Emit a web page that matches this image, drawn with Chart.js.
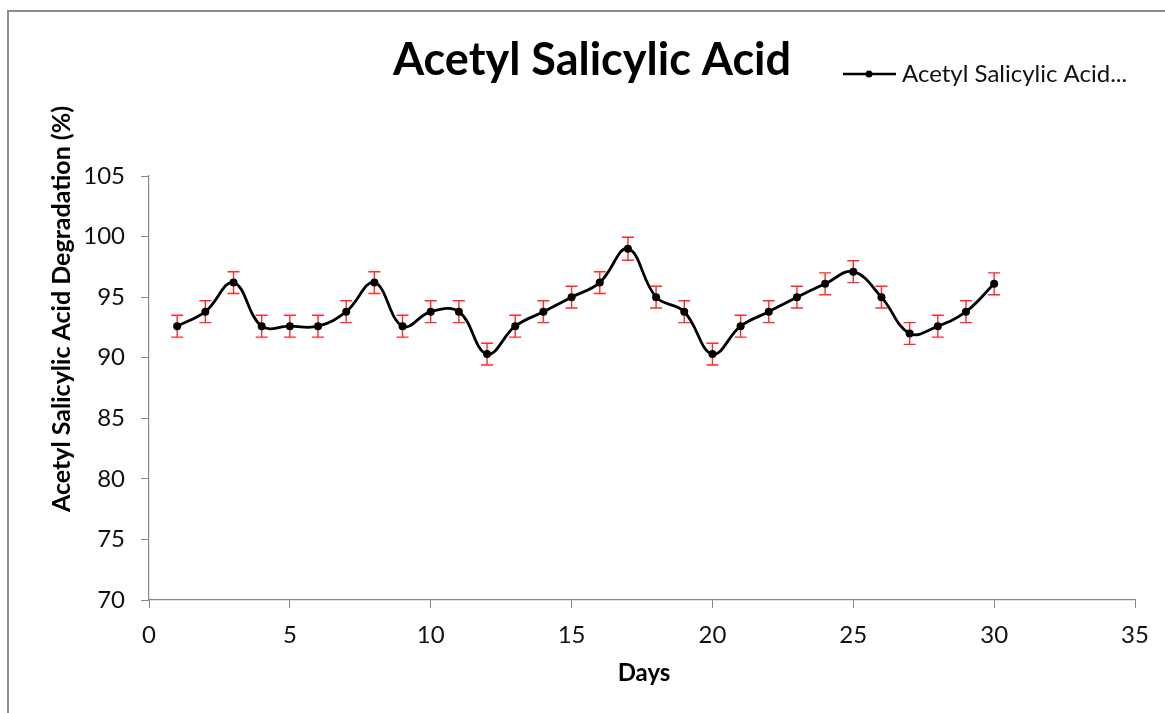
<!DOCTYPE html>
<html>
<head>
<meta charset="utf-8">
<script src="https://cdn.jsdelivr.net/npm/chart.js@4.4.1/dist/chart.umd.min.js"></script>
<style>
  html, body { margin: 0; padding: 0; background: #fff; }
  #wrap { position: relative; width: 1165px; height: 713px; }
  #frame { position: absolute; left: 7px; top: 10px; width: 1170px; height: 720px;
           border-left: 2px solid #8c8c8c; border-top: 2px solid #8c8c8c; box-sizing: border-box; }
  canvas { position: absolute; left: 0; top: 0; }
</style>
</head>
<body>
<div id="wrap">
  <div id="frame"></div>
  <canvas id="grafico" width="1165" height="713"></canvas>
</div>
<script>
// dados
const days = [1, 2, 3, 4, 5, 6, 7, 8, 9, 10, 11, 12, 13, 14, 15,
              16, 17, 18, 19, 20, 21, 22, 23, 24, 25, 26, 27, 28, 29, 30];
const degradation = [92.6, 93.8, 96.2, 92.6, 92.6, 92.6, 93.8, 96.2, 92.6, 93.8,
                     93.8, 90.3, 92.6, 93.8, 95.0, 96.2, 99.0, 95.0, 93.8, 90.3,
                     92.6, 93.8, 95.0, 96.1, 97.1, 95.0, 92.0, 92.6, 93.8, 96.1];
const errors = [0.9, 0.9, 0.9, 0.9, 0.9, 0.9, 0.9, 0.9, 0.9, 0.9,
                0.9, 0.9, 0.9, 0.9, 0.9, 0.9, 0.95, 0.9, 0.9, 0.9,
                0.9, 0.9, 0.9, 0.9, 0.9, 0.9, 0.9, 0.9, 0.9, 0.9];
const xTicks = [0, 5, 10, 15, 20, 25, 30, 35];
const yTicks = [70, 75, 80, 85, 90, 95, 100, 105];

const titleText = 'Acetyl Salicylic Acid';
const legendText = 'Acetyl Salicylic Acid...';
const xTitle = 'Days';
const yTitle = 'Acetyl Salicylic Acid Degradation (%)';

const FONT = 'Lato, "Open Sans", sans-serif';
const GREY = '#868686';

// barras de erro desenhadas com as escalas do gráfico
const errorBars = {
  id: 'errorBars',
  beforeDatasetsDraw(chart) {
    const ctx = chart.ctx;
    const xs = chart.scales.x, ys = chart.scales.y;
    ctx.save();
    ctx.strokeStyle = '#ff2a2a';
    ctx.lineWidth = 1.4;
    days.forEach((d, i) => {
      const px = xs.getPixelForValue(d);
      const top = ys.getPixelForValue(degradation[i] + errors[i]);
      const bot = ys.getPixelForValue(degradation[i] - errors[i]);
      ctx.beginPath();
      ctx.moveTo(px, top); ctx.lineTo(px, bot);
      ctx.moveTo(px - 6, top); ctx.lineTo(px + 6, top);
      ctx.moveTo(px - 6, bot); ctx.lineTo(px + 6, bot);
      ctx.stroke();
    });
    ctx.restore();
  }
};

// título, legenda e títulos dos eixos
const labels = {
  id: 'labels',
  afterDraw(chart) {
    const ctx = chart.ctx;
    const area = chart.chartArea;
    ctx.save();
    ctx.fillStyle = '#000';
    ctx.textBaseline = 'alphabetic';

    ctx.font = 'bold 45px ' + FONT;
    ctx.textAlign = 'center';
    ctx.fillText(titleText, 592, 75);

    ctx.strokeStyle = '#000';
    ctx.lineWidth = 2.5;
    ctx.beginPath(); ctx.moveTo(843, 74); ctx.lineTo(896, 74); ctx.stroke();
    ctx.beginPath(); ctx.arc(869, 74, 3.5, 0, Math.PI * 2); ctx.fill();
    ctx.font = '24px ' + FONT;
    ctx.textAlign = 'left';
    ctx.fillStyle = '#111';
    ctx.fillText(legendText, 902, 82);

    ctx.fillStyle = '#000';
    ctx.font = 'bold 24px ' + FONT;
    ctx.textAlign = 'center';
    ctx.fillText(xTitle, (area.left + area.right) / 2 + 2, 681);

    ctx.translate(70, 309);
    ctx.rotate(-Math.PI / 2);
    ctx.font = 'bold 25px ' + FONT;
    ctx.fillText(yTitle, 0, 0);
    ctx.restore();
  }
};

const ctx = document.getElementById('grafico').getContext('2d');
const myChart = new Chart(ctx, {
  type: 'line',
  data: {
    datasets: [{
      label: legendText,
      data: days.map((d, i) => ({ x: d, y: degradation[i] })),
      borderColor: '#000',
      backgroundColor: '#000',
      borderWidth: 2.8,
      pointRadius: 4,
      pointBackgroundColor: '#000',
      pointBorderWidth: 0,
      tension: 0.4,
      fill: false
    }]
  },
  options: {
    responsive: false,
    animation: false,
    layout: { padding: { left: 0, right: 30, top: 176, bottom: 0 } },
    plugins: {
      legend: { display: false },
      title: { display: false },
      tooltip: { enabled: false }
    },
    scales: {
      x: {
        type: 'linear',
        min: 0, max: 35,
        afterBuildTicks: s => { s.ticks = xTicks.map(v => ({ value: v })); },
        afterFit: s => { s.height = 113; },
        grid: { drawOnChartArea: false, drawTicks: true, tickLength: 8, color: GREY },
        border: { color: GREY, width: 1.2 },
        ticks: { color: '#111', font: { family: FONT, size: 24 }, padding: 13 }
      },
      y: {
        min: 70, max: 105,
        afterBuildTicks: s => { s.ticks = yTicks.map(v => ({ value: v })); },
        afterFit: s => { s.width = 149; },
        grid: { drawOnChartArea: false, drawTicks: true, tickLength: 8, color: GREY },
        border: { color: GREY, width: 1.2 },
        ticks: { color: '#111', font: { family: FONT, size: 24 }, padding: 16 }
      }
    }
  },
  plugins: [errorBars, labels]
});
</script>
</body>
</html>
